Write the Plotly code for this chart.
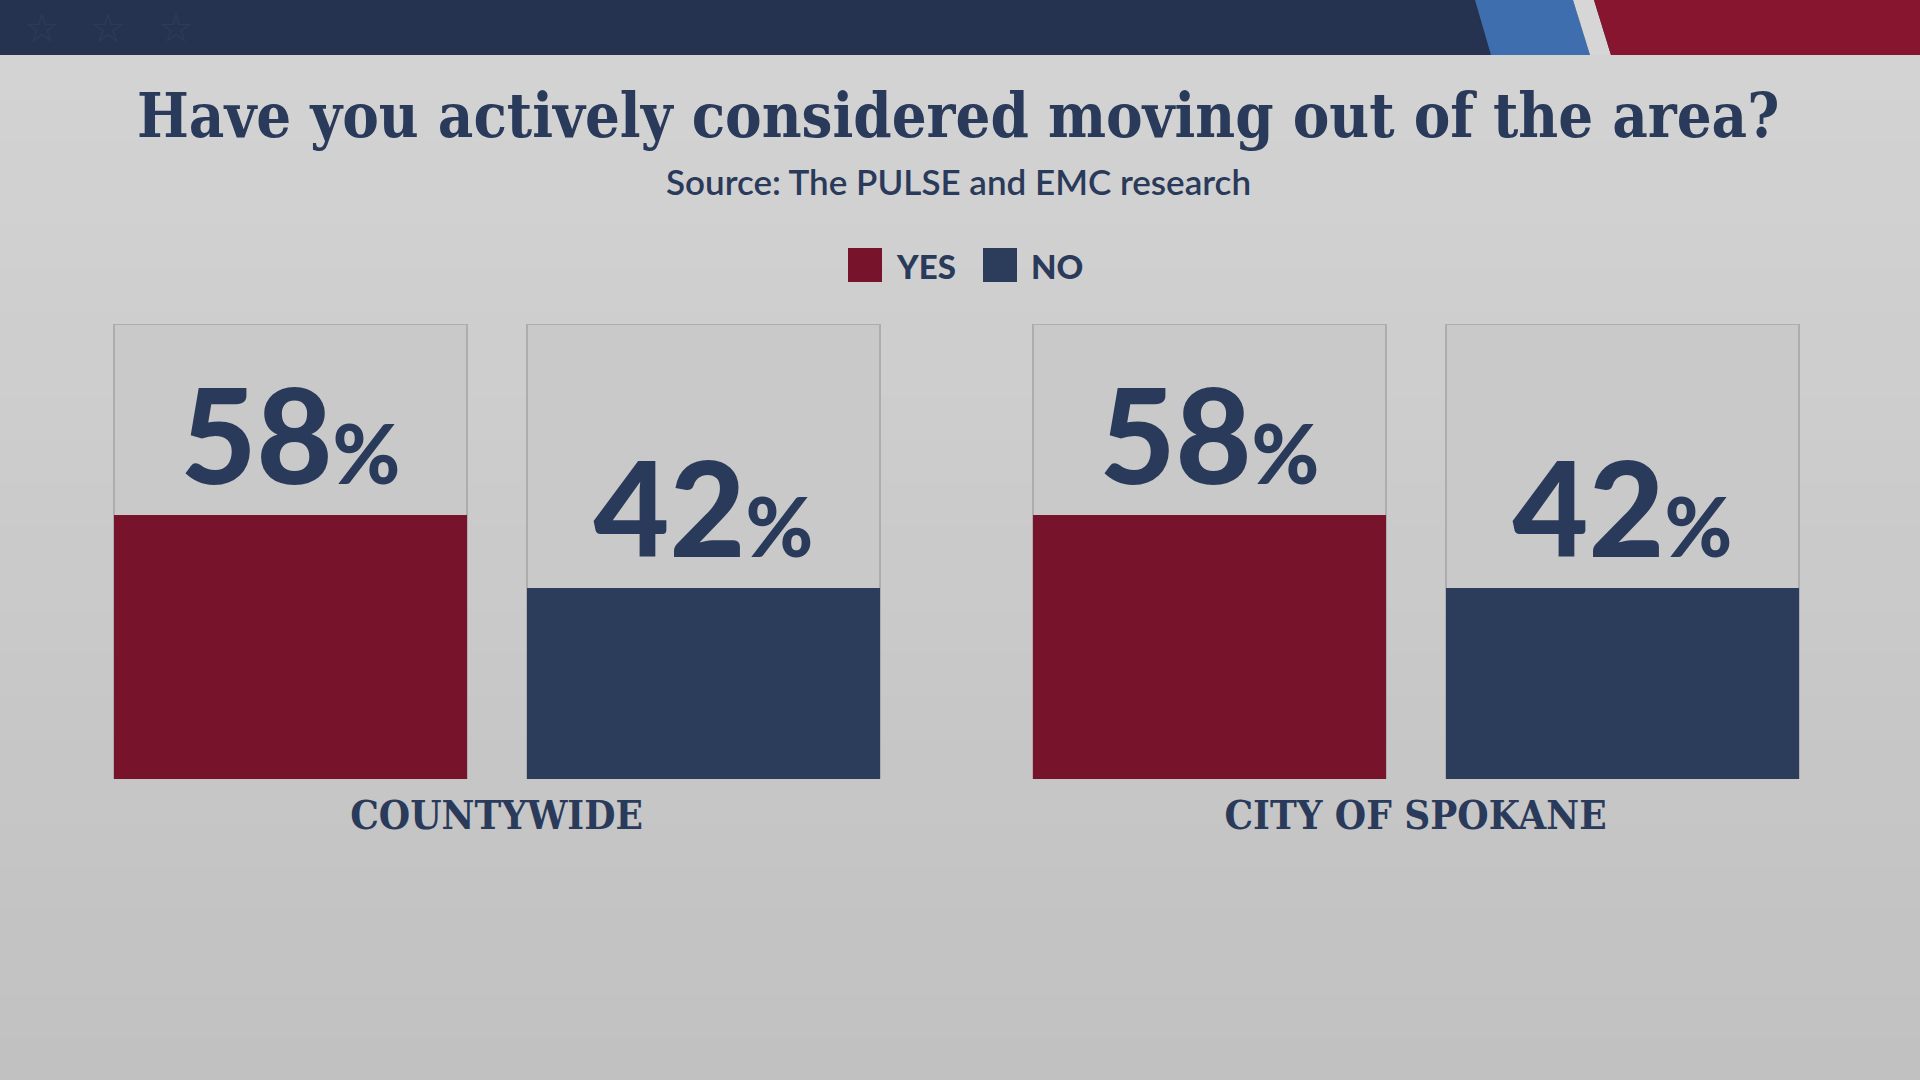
import plotly.graph_objects as go

# ---------------- data ----------------
groups = ["COUNTYWIDE", "CITY OF SPOKANE"]
yes_vals = [58, 58]               # YES share (%)
no_vals = [42, 42]                # NO share (%)
scale_max = [100, 100]            # full-height background box (100%)
legend_labels = ["YES", "NO"]
title_text = "Have you actively considered moving out of the area?"
subtitle_text = "Source: The PULSE and EMC research"

# ---------------- styles ----------------
W, H = 1920, 1080
ML, MR, MT, MB = 37, 45, 324, 301
PW = W - ML - MR
PH = H - MT - MB
NAVY = "#2a3a5a"
RED = "#77132b"
BLUE = "#2c3c5b"
BOX = "#c9c9c9"
BOX_EDGE = "#adadad"
NUM_FONT = "Lato Black, Lato"
SUB_FONT = "Lato"
SLAB_FONT = "DejaVu Serif Condensed"

step = PW / 2.0
bar_w = 353 / step
off_yes = (114 - (ML + step / 2)) / step
off_no = (527 - (ML + step / 2)) / step


def xp(px):
    return (px - ML) / PW


def yp(py):
    return (H - MB - py) / PH


label_tpl = "%{y}<span style='font-size:82px'>%</span>"

fig = go.Figure()
for off in (off_yes, off_no):
    fig.add_trace(go.Bar(
        x=groups, y=scale_max, offset=off, width=bar_w,
        marker=dict(color=BOX, line=dict(color=BOX_EDGE, width=2)),
        hoverinfo="skip", showlegend=False,
    ))
fig.add_trace(go.Bar(
    x=groups, y=yes_vals, offset=off_yes, width=bar_w, name=legend_labels[0],
    marker=dict(color=RED, line=dict(width=0)),
    texttemplate=label_tpl, textposition="outside", constraintext="none",
    textfont=dict(family=NUM_FONT, size=131, color=NAVY, weight=900),
    cliponaxis=False, showlegend=False,
))
fig.add_trace(go.Bar(
    x=groups, y=no_vals, offset=off_no, width=bar_w, name=legend_labels[1],
    marker=dict(color=BLUE, line=dict(width=0)),
    texttemplate=label_tpl, textposition="outside", constraintext="none",
    textfont=dict(family=NUM_FONT, size=131, color=NAVY, weight=900),
    cliponaxis=False, showlegend=False,
))

shapes = []
# background vertical gradient bands
nb = 24
c_top = (0xd3, 0xd3, 0xd3)
c_bot = (0xc1, 0xc1, 0xc1)
for i in range(nb):
    t = i / (nb - 1)
    c = tuple(round(a + (b - a) * t) for a, b in zip(c_top, c_bot))
    y0 = 55 + (H - 55) * i / nb
    y1 = 55 + (H - 55) * (i + 1) / nb
    shapes.append(dict(type="rect", xref="paper", yref="paper", layer="below",
                       x0=xp(0), x1=xp(W), y0=yp(y1 + 1), y1=yp(y0),
                       fillcolor="rgb(%d,%d,%d)" % c, line=dict(width=0)))
# top banner
shapes.append(dict(type="rect", xref="paper", yref="paper", layer="below",
                   x0=xp(0), x1=xp(W), y0=yp(55), y1=yp(0),
                   fillcolor="#263350", line=dict(width=0)))
shapes.append(dict(type="path", xref="paper", yref="paper", layer="below",
                   path="M %f,%f L %f,%f L %f,%f L %f,%f Z" % (
                       xp(1475), yp(0), xp(1573), yp(0), xp(1590), yp(55), xp(1491), yp(55)),
                   fillcolor="#3e6eae", line=dict(width=0)))
shapes.append(dict(type="path", xref="paper", yref="paper", layer="below",
                   path="M %f,%f L %f,%f L %f,%f L %f,%f Z" % (
                       xp(1573), yp(0), xp(1594), yp(0), xp(1611), yp(55), xp(1590), yp(55)),
                   fillcolor="#d6d6d6", line=dict(width=0)))
shapes.append(dict(type="path", xref="paper", yref="paper", layer="below",
                   path="M %f,%f L %f,%f L %f,%f L %f,%f Z" % (
                       xp(1594), yp(0), xp(W), yp(0), xp(W), yp(55), xp(1611), yp(55)),
                   fillcolor="#88152f", line=dict(width=0)))
# legend swatches
shapes.append(dict(type="rect", xref="paper", yref="paper",
                   x0=xp(848), x1=xp(882), y0=yp(282), y1=yp(248),
                   fillcolor=RED, line=dict(width=0)))
shapes.append(dict(type="rect", xref="paper", yref="paper",
                   x0=xp(983), x1=xp(1017), y0=yp(282), y1=yp(248),
                   fillcolor=BLUE, line=dict(width=0)))

annotations = [
    dict(text=title_text, x=xp(958), y=yp(115), xref="paper", yref="paper",
         xanchor="center", yanchor="middle", showarrow=False,
         font=dict(family=SLAB_FONT, size=61, color=NAVY, weight=700)),
    dict(text=subtitle_text, x=xp(959), y=yp(181), xref="paper", yref="paper",
         xanchor="center", yanchor="middle", showarrow=False,
         font=dict(family=SUB_FONT, size=35, color=NAVY, weight=600)),
    dict(text=legend_labels[0], x=xp(894), y=yp(266), xref="paper", yref="paper",
         xanchor="left", yanchor="middle", showarrow=False,
         font=dict(family=NUM_FONT, size=33, color=NAVY, weight=900)),
    dict(text=legend_labels[1], x=xp(1029), y=yp(266), xref="paper", yref="paper",
         xanchor="left", yanchor="middle", showarrow=False,
         font=dict(family=NUM_FONT, size=33, color=NAVY, weight=900)),
]
for sx in (42, 108, 176):
    annotations.append(dict(text="☆", x=xp(sx), y=yp(28), xref="paper", yref="paper",
                            xanchor="center", yanchor="middle", showarrow=False,
                            font=dict(family="DejaVu Sans", size=40, color="#2e3b58")))

fig.update_layout(
    width=W, height=H,
    margin=dict(l=ML, r=MR, t=MT, b=MB, pad=0),
    barmode="overlay",
    paper_bgcolor="#cbcbcb", plot_bgcolor="rgba(0,0,0,0)",
    showlegend=False,
    shapes=shapes, annotations=annotations,
    xaxis=dict(range=[-0.5, 1.5], showgrid=False, zeroline=False, showline=False,
               ticks="", ticklabelstandoff=9,
               tickfont=dict(family=SLAB_FONT, size=40, color=NAVY, weight=700)),
    yaxis=dict(range=[0, 100], visible=False, fixedrange=True),
)
fig.write_html("out.html")
